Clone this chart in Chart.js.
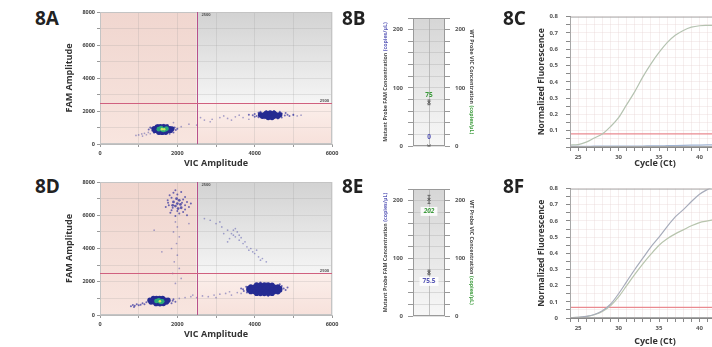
<!DOCTYPE html>
<html>
<head>
<meta charset="utf-8">
<script src="https://cdn.jsdelivr.net/npm/chart.js@4"></script>
<style>
  html, body { margin: 0; width: 712px; height: 347px; overflow: hidden; background: #fff; }
  body { position: relative; font-family: "Open Sans", sans-serif; }
  canvas { position: absolute; }
  .tag { position: absolute; font: bold 19px/19px "Open Sans", sans-serif; color: #222; }
</style>
</head>
<body>
<canvas id="chartA" width="284" height="168" style="left:60px;top:4px"></canvas>
<canvas id="chartB" width="105" height="150" style="left:375px;top:5px"></canvas>
<canvas id="chartC" width="225" height="170" style="left:525px;top:5px"></canvas>
<canvas id="chartD" width="284" height="169" style="left:60px;top:174px"></canvas>
<canvas id="chartE" width="105" height="150" style="left:375px;top:176px"></canvas>
<canvas id="chartF" width="225" height="170" style="left:525px;top:177px"></canvas>

<div class="tag" style="left:35px;top:9px">8A</div>
<div class="tag" style="left:342px;top:9px">8B</div>
<div class="tag" style="left:503px;top:9px">8C</div>
<div class="tag" style="left:35px;top:177px">8D</div>
<div class="tag" style="left:342px;top:177px">8E</div>
<div class="tag" style="left:503px;top:177px">8F</div>

<script>
// ---- droplet plots (8A, 8D): VIC amplitude vs FAM amplitude ----
const ampThreshold = 2500;

// 8A droplets [VIC, FAM]
const aSparse = [[1000,550],[1080,610],[1150,650],[1200,560],[1250,700],[1100,480],[930,520],[1300,620],
  [2100,1050],[2300,1200],[2500,1150],[2700,1450],[2900,1500],[3100,1600],[3300,1550],[3500,1650],
  [3600,1750],[3700,1600],[3850,1500],[2850,1350],[3200,1700],[5000,1800],[5100,1700],[5200,1750],
  [1900,1300],[2600,1600],[3400,1450]];
const aHalo = [[1330,950],[1350,820],[1960,850],[1930,1000],[1500,1150],[1750,1150],[1400,680],[1900,700],
  [1260,880],[2000,920],[1550,600],[1800,620],[1650,1160],[1300,1000],
  [3950,1750],[4000,1820],[4050,1700],[4100,1900],[4700,1850],[4780,1720],[4850,1780],[4900,1700],
  [4650,1950],[4300,1980],[4500,2000],[4100,1620],[4700,1600],[4000,1650],[3850,1780],[5000,1760],
  [4400,1540],[4250,1560],[4600,1540],[4800,1880],[4150,1960]];
const aCore = [[1480,1040],[1560,1050],[1640,1050],[1720,1040],
  [1400,930],[1480,930],[1560,930],[1640,930],[1720,930],[1800,930],[1860,920],
  [1420,820],[1500,810],[1580,810],[1660,810],[1740,810],[1820,820],
  [1520,710],[1610,700],[1700,710],
  [4300,1880],[4400,1890],[4500,1880],
  [4150,1780],[4250,1780],[4350,1780],[4450,1780],[4550,1780],[4650,1780],
  [4200,1680],[4300,1680],[4400,1680],[4500,1680],[4600,1680],
  [4350,1600],[4450,1600]];
const aHot = [[1520,900],[1600,900],[1680,880],[1580,960],[1720,930],[1640,850]];
const aPeak = [[1600,900],[1660,890]];

// 8D droplets [VIC, FAM]
const dSparse = [[2050,1000],[2200,1050],[2350,1100],[2500,1050],[2650,1150],[2800,1100],[2950,1200],
  [3100,1250],[3250,1300],[3400,1200],[3550,1350],[3650,1300],[2400,1200],[3000,1050],[3350,1400],
  [1950,5600],[2000,5300],[1900,5000],[2050,4700],[1980,4300],[1850,4000],[2000,3600],[1920,3200],
  [2050,2800],[1880,2500],[2100,2200],[1950,1900],[1400,5100],[2300,5500],[1600,3800],
  [2700,5800],[2850,5700],[3000,5500],[3150,5300],[3300,5100],[3400,4900],[3450,4800],[3500,4700],
  [3550,5000],[3350,4600],[3600,4500],[3700,4300],[3650,4650],[3800,4100],[3850,3900],[3900,4000],
  [4000,3700],[4100,3500],[4200,3400],[4300,3200],[3500,5200],[3200,4900],[3750,4400],[3950,3800],
  [3300,4400],[3600,4800],[3450,5100],[3100,5600],[4050,3900],[4150,3300]];
const dHalo = [[800,520],[850,600],[900,560],[950,650],[1000,580],[1050,620],[1100,700],[1150,640],
  [880,480],[1200,760],[1880,850],[1900,950],[1850,700],[1950,800],
  [3700,1550],[3720,1450],[3780,1700],[4750,1600],[4800,1500],[4700,1750],[4650,1850],[4150,1950],
  [4300,1900],[4050,1200],[4350,1150],[4600,1300],[3800,1350],[4850,1650],[3650,1600],
  [1750,6900],[1800,7200],[1850,6300],[1780,6600],[2200,7100],[2250,6800],[2300,6500],[2150,6200],
  [2050,6100],[1950,5950],[2100,7400],[1900,7350],[2350,6700],[1700,6500],[2200,6350],[1850,7050],
  [2000,7250],[2150,6950],[1820,6150],[2250,6000],[1950,7500],[2120,6750],[1880,6450],[2200,6600],
  [1760,6750],[2000,6250]];
const dMid = [[1900,6800],[2000,6700],[2080,6650],[1950,6550],[2050,6900],[1980,7000],[2100,6450],
  [1880,6600],[2020,6400]];
const dCore = [[1380,1000],[1460,1005],[1540,1005],[1620,1000],
  [1290,890],[1370,890],[1450,890],[1530,890],[1610,890],[1690,890],[1760,890],
  [1320,780],[1400,780],[1480,780],[1560,780],[1640,780],[1720,780],
  [1450,680],[1550,675],[1640,685],
  [4050,1810],[4150,1820],[4250,1820],[4350,1810],[4450,1800],
  [3900,1700],[4000,1700],[4100,1700],[4200,1700],[4300,1700],[4400,1700],[4500,1700],[4600,1700],
  [3850,1600],[3950,1600],[4050,1600],[4150,1600],[4250,1600],[4350,1600],[4450,1600],[4550,1600],[4650,1600],
  [3850,1500],[3950,1500],[4050,1500],[4150,1500],[4250,1500],[4350,1500],[4450,1500],[4550,1500],[4650,1500],
  [3900,1400],[4000,1400],[4100,1400],[4200,1400],[4300,1400],[4400,1400],[4500,1400],[4600,1400],
  [4050,1300],[4150,1290],[4250,1290],[4350,1300],[4450,1300]];
const dHot = [[1460,840],[1540,830],[1610,820],[1520,880],[1580,790]];
const dPeak = [[1550,830]];

// ---- concentration plots (8B, 8E) ----
const concB = [75, 0];      // [WT VIC, mutant FAM] copies/uL
const errB = [4, 0.5];
const concE = [202, 75.5];
const errE = [7, 4];

// ---- qPCR amplification plots (8C, 8F) ----
const cycles = [24, 25, 26, 27, 28, 29, 30, 31, 32, 33, 34, 35, 36, 37, 38, 39, 40, 41, 42];
const cVic = [0.012, 0.015, 0.03, 0.055, 0.08, 0.125, 0.18, 0.26, 0.34, 0.43, 0.51, 0.58, 0.64, 0.685, 0.715, 0.735, 0.744, 0.746, 0.747];
const cFam = [0.004, 0.004, 0.004, 0.005, 0.005, 0.005, 0.005, 0.006, 0.006, 0.006, 0.007, 0.007, 0.008, 0.009, 0.01, 0.011, 0.012, 0.013, 0.014];
const fFam = [0.003, 0.004, 0.01, 0.022, 0.045, 0.085, 0.15, 0.225, 0.3, 0.37, 0.44, 0.5, 0.565, 0.625, 0.67, 0.72, 0.765, 0.795, 0.82];
const fVic = [0.003, 0.004, 0.009, 0.02, 0.04, 0.075, 0.13, 0.2, 0.27, 0.335, 0.395, 0.45, 0.49, 0.52, 0.545, 0.57, 0.59, 0.6, 0.61];
const thrC = 0.08;
const thrF = 0.066;

Chart.defaults.font.family = '"Open Sans", sans-serif';
Chart.defaults.animation = false;
Chart.defaults.responsive = false;
Chart.defaults.devicePixelRatio = 1;
Chart.defaults.plugins.legend.display = false;
Chart.defaults.plugins.tooltip.enabled = false;

function pts(list) {
  return list.map(p => ({ x: p[0], y: p[1] }));
}

const quadrants = {
  id: 'quadrants',
  beforeDraw(chart) {
    const { ctx, chartArea: a, scales: { x, y } } = chart;
    const tx = x.getPixelForValue(ampThreshold);
    const ty = y.getPixelForValue(ampThreshold);
    ctx.save();
    let g = ctx.createLinearGradient(0, a.top, 0, a.bottom);
    g.addColorStop(0, '#f0d6cf');
    g.addColorStop(1, '#f8e5df');
    ctx.fillStyle = g;
    ctx.fillRect(a.left, a.top, tx - a.left, a.bottom - a.top);
    g = ctx.createLinearGradient(0, a.top, 0, ty);
    g.addColorStop(0, '#d2d2d2');
    g.addColorStop(1, '#f5f5f5');
    ctx.fillStyle = g;
    ctx.fillRect(tx, a.top, a.right - tx, ty - a.top);
    g = ctx.createLinearGradient(0, ty, 0, a.bottom);
    g.addColorStop(0, '#fbefeb');
    g.addColorStop(1, '#f7e1db');
    ctx.fillStyle = g;
    ctx.fillRect(tx, ty, a.right - tx, a.bottom - ty);
    ctx.restore();
  },
  afterDatasetsDraw(chart) {
    const { ctx, chartArea: a, scales: { x, y } } = chart;
    const tx = Math.round(x.getPixelForValue(ampThreshold)) + 0.5;
    const ty = Math.round(y.getPixelForValue(ampThreshold)) + 0.5;
    ctx.save();
    ctx.lineWidth = 1;
    ctx.strokeStyle = '#c4c4c4';
    ctx.strokeRect(a.left + 0.5, a.top + 0.5, a.right - a.left - 1, a.bottom - a.top - 1);
    ctx.strokeStyle = '#b9508a';
    ctx.beginPath(); ctx.moveTo(tx, a.top); ctx.lineTo(tx, a.bottom); ctx.stroke();
    ctx.strokeStyle = '#d0607f';
    ctx.beginPath(); ctx.moveTo(a.left, ty); ctx.lineTo(a.right, ty); ctx.stroke();
    ctx.fillStyle = '#555';
    ctx.font = 'bold 4px "Open Sans"';
    ctx.textBaseline = 'middle';
    ctx.fillText('2500', tx + 4, a.top + 3);
    ctx.textAlign = 'right';
    ctx.fillText('2500', a.right - 3, ty - 3);
    ctx.restore();
  }
};

function dropletChart(id, g, xHeight) {
  const dot = (list, r, color) => ({
    data: pts(list), pointRadius: r, pointBackgroundColor: color, pointBorderWidth: 0
  });
  // first dataset is painted last (on top)
  return new Chart(document.getElementById(id), {
    type: 'scatter',
    data: {
      datasets: [
        dot(g.peak, 1.3, '#cde860'),
        dot(g.hot, 2.3, '#2aa97a'),
        dot(g.core, 2.6, '#252b92'),
        dot(g.mid || [], 1.4, 'rgba(45,45,155,0.75)'),
        dot(g.halo, 1.0, 'rgba(50,50,160,0.7)'),
        dot(g.sparse, 0.85, 'rgba(80,80,170,0.5)')
      ]
    },
    options: {
      layout: { padding: { top: 8, right: 12, left: 0, bottom: 0 } },
      scales: {
        x: {
          min: 0, max: 6000,
          ticks: { stepSize: 1000, autoSkip: false, maxRotation: 0, callback: v => v % 2000 === 0 ? v : '',
                   font: { size: 5.5, weight: 'bold' }, color: '#444', padding: 3 },
          grid: { color: 'rgba(150,150,150,0.2)', tickLength: 3, tickColor: '#999' },
          border: { color: '#bbb' },
          title: { display: true, text: 'VIC Amplitude', font: { size: 9, weight: 'bold' }, color: '#333', padding: { top: 0, bottom: 3 } },
          afterFit: s => { s.height = xHeight; }
        },
        y: {
          min: 0, max: 8000,
          ticks: { stepSize: 1000, autoSkip: false, callback: v => v % 2000 === 0 ? v : '',
                   font: { size: 5.5, weight: 'bold' }, color: '#444', padding: 2 },
          grid: { color: 'rgba(150,150,150,0.2)', tickLength: 3, tickColor: '#999' },
          border: { color: '#bbb' },
          title: { display: true, text: 'FAM Amplitude', font: { size: 9, weight: 'bold' }, color: '#333', padding: { top: 4.5, bottom: 0 } },
          afterFit: s => { s.width = 40; }
        }
      }
    },
    plugins: [quadrants]
  });
}

dropletChart('chartA', { sparse: aSparse, halo: aHalo, core: aCore, hot: aHot, peak: aPeak }, 28);
dropletChart('chartD', { sparse: dSparse, halo: dHalo, mid: dMid, core: dCore, hot: dHot, peak: dPeak }, 28);

// concentration panels
function drawRotated(ctx, x, cy, parts, angle) {
  ctx.save();
  ctx.translate(x, cy);
  ctx.rotate(angle);
  ctx.font = 'bold 5.3px "Open Sans"';
  ctx.textBaseline = 'middle';
  const total = parts.reduce((s, p) => s + ctx.measureText(p[0]).width, 0);
  let pos = -total / 2;
  parts.forEach(p => {
    ctx.fillStyle = p[1];
    ctx.fillText(p[0], pos, 0);
    pos += ctx.measureText(p[0]).width;
  });
  ctx.restore();
}

const concPanel = {
  id: 'concPanel',
  beforeDraw(chart) {
    const { ctx, chartArea: a } = chart;
    const g = ctx.createLinearGradient(0, a.top, 0, a.bottom);
    g.addColorStop(0, '#d6d6d6');
    g.addColorStop(1, '#f7f7f7');
    ctx.save();
    ctx.fillStyle = g;
    ctx.fillRect(a.left, a.top, a.right - a.left, a.bottom - a.top);
    ctx.restore();
  },
  afterDraw(chart) {
    const { ctx, chartArea: a, scales: { y } } = chart;
    ctx.save();
    ctx.strokeStyle = '#9a9a9a';
    ctx.lineWidth = 1;
    ctx.strokeRect(a.left + 0.5, a.top + 0.5, a.right - a.left - 1, a.bottom - a.top - 1);
    const cy = (a.top + a.bottom) / 2;
    drawRotated(ctx, 10, cy, [['Mutant Probe FAM Concentration ', '#444'], ['(copies/µL)', '#5a5ab8']], -Math.PI / 2);
    drawRotated(ctx, 97, cy, [['WT Probe VIC Concentration ', '#444'], ['(copies/µL)', '#3a9a3a']], Math.PI / 2);

    chart.data.datasets.forEach((ds, i) => {
      const el = chart.getDatasetMeta(i).data[0];
      const v = ds.data[0].y;
      const top = y.getPixelForValue(v + ds.err);
      const bot = y.getPixelForValue(Math.max(0, v - ds.err));
      ctx.strokeStyle = '#666';
      ctx.beginPath();
      ctx.moveTo(el.x, top); ctx.lineTo(el.x, bot);
      ctx.moveTo(el.x - 1.5, top); ctx.lineTo(el.x + 1.5, top);
      ctx.moveTo(el.x - 1.5, bot); ctx.lineTo(el.x + 1.5, bot);
      ctx.stroke();
      ctx.font = ds.labelFont;
      const txt = String(v);
      const w = ctx.measureText(txt).width;
      const ly = el.y + ds.labelDy;
      if (ds.labelBox) {
        ctx.fillStyle = 'rgba(255,255,255,0.85)';
        ctx.fillRect(el.x - w / 2 - 3, ly - 4.5, w + 6, 9);
      }
      ctx.fillStyle = ds.labelColor;
      ctx.textAlign = 'center';
      ctx.textBaseline = 'middle';
      ctx.fillText(txt, el.x, ly);
    });
    ctx.restore();
  }
};

function concChart(id, values, errs, dys, boxed, xHeight) {
  const mk = (i, color, font) => ({
    data: [{ x: 0, y: values[i] }],
    err: errs[i],
    labelDy: dys[i],
    labelColor: color,
    labelFont: font,
    labelBox: boxed,
    pointStyle: 'crossRot',
    pointRadius: 2,
    pointBorderColor: '#444',
    pointBorderWidth: 1
  });
  const tickCb = v => v % 100 === 0 ? v : '';
  return new Chart(document.getElementById(id), {
    type: 'scatter',
    data: {
      datasets: [
        mk(0, '#3c9a3c', boxed ? 'italic bold 6.5px "Open Sans"' : 'bold 6.5px "Open Sans"'),
        mk(1, '#5555b5', 'bold 6.5px "Open Sans"')
      ]
    },
    options: {
      layout: { padding: { top: 13, right: 0, left: 0, bottom: 0 } },
      scales: {
        x: {
          min: -1, max: 1,
          ticks: { display: false, stepSize: 1 },
          grid: { drawTicks: false, color: c => c.tick && c.tick.value === 0 ? 'rgba(170,170,170,0.7)' : 'transparent' },
          border: { display: false },
          afterFit: s => { s.height = xHeight; }
        },
        y: {
          position: 'left', min: 0, max: 220,
          ticks: { stepSize: 20, autoSkip: false, callback: tickCb, font: { size: 6, weight: 'bold' }, color: '#555', padding: 5 },
          grid: { color: 'rgba(170,170,170,0.35)', tickLength: 5, tickColor: '#999' },
          border: { display: false },
          afterFit: s => { s.width = 38; }
        },
        y2: {
          position: 'right', min: 0, max: 220,
          ticks: { stepSize: 20, autoSkip: false, callback: tickCb, font: { size: 6, weight: 'bold' }, color: '#555', padding: 5 },
          grid: { drawOnChartArea: false, tickLength: 5, tickColor: '#999' },
          border: { display: false },
          afterFit: s => { s.width = 35; }
        }
      }
    },
    plugins: [concPanel]
  });
}

concChart('chartB', concB, errB, [-7, -9], false, 9);
concChart('chartE', concE, errE, [12, 9], true, 10);

// amplification panels
const frame = {
  id: 'frame',
  afterDraw(chart) {
    const { ctx, chartArea: a } = chart;
    ctx.save();
    ctx.strokeStyle = '#a8a8a8';
    ctx.lineWidth = 1;
    ctx.strokeRect(a.left + 0.5, a.top + 0.5, a.right - a.left - 1, a.bottom - a.top - 1);
    ctx.restore();
  }
};

function qpcrChart(id, series, thr, showZero, titlePad, xHeight) {
  const ds = series.map(s => ({
    data: cycles.map((c, i) => ({ x: c, y: s.values[i] })),
    borderColor: s.color, borderWidth: 1.2, pointRadius: 0, cubicInterpolationMode: 'monotone'
  }));
  ds.push({
    data: [{ x: 24, y: thr }, { x: 45, y: thr }],
    borderColor: '#ea8a90', borderWidth: 1.2, pointRadius: 0
  });
  return new Chart(document.getElementById(id), {
    type: 'line',
    data: { datasets: ds },
    options: {
      layout: { padding: { top: 10, right: 10, left: 0, bottom: 0 } },
      scales: {
        x: {
          type: 'linear', min: 24, max: 45,
          ticks: { stepSize: 1, autoSkip: false, maxRotation: 0, callback: v => v % 5 === 0 ? v : '',
                   font: { size: 6, weight: 'bold' }, color: '#555', padding: 3 },
          grid: { color: 'rgba(232,214,216,0.4)', tickLength: 4, tickColor: '#888' },
          border: { color: '#888' },
          title: { display: true, text: 'Cycle (Ct)', font: { size: 9, weight: 'bold' }, color: '#333', padding: { top: 0, bottom: titlePad } },
          afterFit: s => { s.height = xHeight; }
        },
        y: {
          min: 0, max: 0.8,
          ticks: { stepSize: 0.05, autoSkip: false,
                   callback: v => {
                     const k = Math.round(v * 100);
                     if (k % 10 !== 0) return '';
                     if (k === 0) return showZero ? '0' : '';
                     return (k / 100).toFixed(1);
                   },
                   font: { size: 6, weight: 'bold' }, color: '#555', padding: 8 },
          grid: { color: 'rgba(232,214,216,0.4)', tickLength: 4, tickColor: '#888' },
          border: { color: '#888' },
          title: { display: true, text: 'Normalized Fluorescence', font: { size: 8.5, weight: 'bold' }, color: '#333', padding: { top: 11, bottom: 0 } },
          afterFit: s => { s.width = 45; }
        }
      }
    },
    plugins: [frame]
  });
}

qpcrChart('chartC', [
  { values: cFam, color: '#9fb3d3' },
  { values: cVic, color: '#b5c3b1' }
], thrC, false, 6, 28);

qpcrChart('chartF', [
  { values: fFam, color: '#a7acbb' },
  { values: fVic, color: '#b8c5ae' }
], thrF, true, 0, 29);
</script>
</body>
</html>
